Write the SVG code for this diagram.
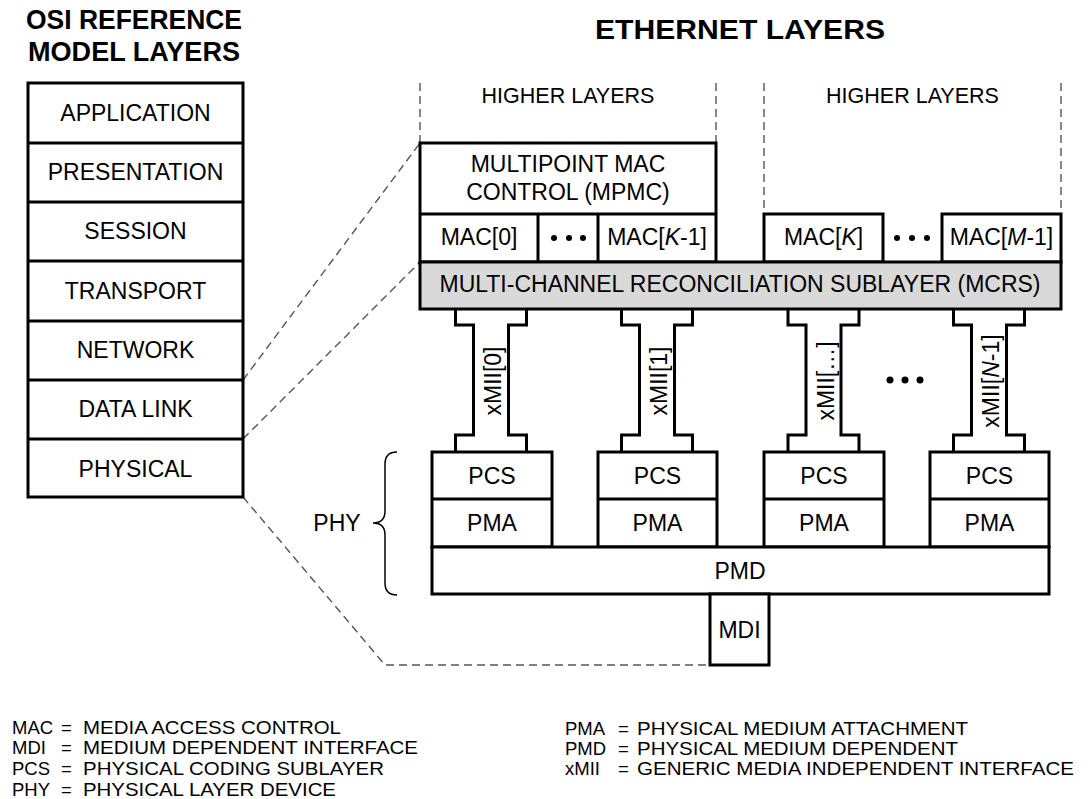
<svg xmlns="http://www.w3.org/2000/svg" width="1092" height="799" viewBox="0 0 1092 799">
<defs>
<style>
text{font-family:"Liberation Sans",Arial,sans-serif;fill:#000}
.t{font-size:23px;text-anchor:middle}
.hl{font-size:21.5px;text-anchor:middle}
.ttl{font-size:27px;font-weight:bold;text-anchor:middle}
.lg{font-size:18.5px}
.box{fill:#fff;stroke:#000;stroke-width:3}
.ln{fill:none;stroke:#000;stroke-width:3}
.gray{fill:#d9d9d9;stroke:#000;stroke-width:3}
.dash{fill:none;stroke:#555;stroke-width:1.4;stroke-dasharray:8 5}
.i{font-style:italic}
</style>
</defs>
<rect width="1092" height="799" fill="#fff"/>

<g id="titles">
<text class="ttl" x="134" y="29" textLength="216" lengthAdjust="spacingAndGlyphs">OSI REFERENCE</text>
<text class="ttl" x="134" y="61" textLength="212" lengthAdjust="spacingAndGlyphs">MODEL LAYERS</text>
<text class="ttl" x="740" y="39" font-size="28" textLength="290" lengthAdjust="spacingAndGlyphs">ETHERNET LAYERS</text>
</g>

<g id="connectors">
<path class="dash" d="M420,83 V143 M716,83 V143 M764,83 V214 M1061,83 V214"/>
<path class="dash" d="M243,380 L420,143 M243,439 L420,262 M243,497 L385,665 H710"/>
</g>

<g id="osi">
<rect class="box" x="28" y="83" width="215" height="414"/>
<path class="ln" d="M28,143 H243 M28,202 H243 M28,261 H243 M28,321 H243 M28,380 H243 M28,439 H243"/>
<text class="t" x="135.5" y="121">APPLICATION</text>
<text class="t" x="135.5" y="180">PRESENTATION</text>
<text class="t" x="135.5" y="239">SESSION</text>
<text class="t" x="135.5" y="299">TRANSPORT</text>
<text class="t" x="135.5" y="358">NETWORK</text>
<text class="t" x="135.5" y="417">DATA LINK</text>
<text class="t" x="135.5" y="477">PHYSICAL</text>
</g>

<g id="higher-layers">
<text class="hl" x="568" y="103">HIGHER LAYERS</text>
<text class="hl" x="912.5" y="103">HIGHER LAYERS</text>
</g>

<g id="mpmc">
<rect class="box" x="420" y="143" width="296" height="119"/>
<path class="ln" d="M420,214 H716 M538,214 V262 M598,214 V262"/>
<text class="t" x="568" y="172">MULTIPOINT MAC</text>
<text class="t" x="568" y="200">CONTROL (MPMC)</text>
<text class="t" x="479" y="245">MAC[0]</text>
<circle cx="554" cy="238" r="3"/><circle cx="569" cy="238" r="3"/><circle cx="583" cy="238" r="3"/>
<text class="t" x="657" y="245">MAC[<tspan class="i">K</tspan>-1]</text>
</g>

<g id="mac-k">
<rect class="box" x="764" y="214" width="119" height="48"/>
<text class="t" x="823.5" y="245">MAC[<tspan class="i">K</tspan>]</text>
</g>
<g id="mac-ellipsis">
<circle cx="897" cy="238" r="3"/><circle cx="912" cy="238" r="3"/><circle cx="927" cy="238" r="3"/>
</g>
<g id="mac-m">
<rect class="box" x="942" y="214" width="119" height="48"/>
<text class="t" x="1001.5" y="245">MAC[<tspan class="i">M</tspan>-1]</text>
</g>

<g id="mcrs">
<rect class="gray" x="420" y="262" width="641" height="47"/>
<text class="t" x="740" y="292">MULTI-CHANNEL RECONCILIATION SUBLAYER (MCRS)</text>
</g>

<g id="xmii">
<path class="ln" d="M455.5,309 V325 H473.5 V435 H455.5 V452 M526.5,309 V325 H508.5 V435 H526.5 V452"/>
<text class="t" font-size="22" transform="translate(501,381) rotate(-90)" x="0" y="0">xMII[0]</text>
<path class="ln" d="M621.5,309 V325 H639.5 V435 H621.5 V452 M692.5,309 V325 H674.5 V435 H692.5 V452"/>
<text class="t" font-size="22" transform="translate(667,381) rotate(-90)" x="0" y="0">xMII[1]</text>
<path class="ln" d="M788,309 V325 H806 V435 H788 V452 M859,309 V325 H841 V435 H859 V452"/>
<text class="t" font-size="22" transform="translate(833.5,381) rotate(-90)" x="0" y="0">xMII[…]</text>
<path class="ln" d="M953.5,309 V325 H971.5 V435 H953.5 V452 M1024.5,309 V325 H1006.5 V435 H1024.5 V452"/>
<text class="t" font-size="22" transform="translate(999,381) rotate(-90)" x="0" y="0">xMII[<tspan class="i">N</tspan>-1]</text>
<circle cx="890" cy="380" r="3.5"/><circle cx="905" cy="380" r="3.5"/><circle cx="920" cy="380" r="3.5"/>
</g>

<g id="phy0">
<rect class="box" x="432" y="452" width="120" height="95"/>
<path class="ln" d="M432,499 H552"/>
<text class="t" x="492" y="484">PCS</text>
<text class="t" x="492" y="531">PMA</text>
</g>
<g id="phy1">
<rect class="box" x="598" y="452" width="119" height="95"/>
<path class="ln" d="M598,499 H717"/>
<text class="t" x="657.5" y="484">PCS</text>
<text class="t" x="657.5" y="531">PMA</text>
</g>
<g id="phy2">
<rect class="box" x="764" y="452" width="120" height="95"/>
<path class="ln" d="M764,499 H884"/>
<text class="t" x="824" y="484">PCS</text>
<text class="t" x="824" y="531">PMA</text>
</g>
<g id="phy3">
<rect class="box" x="930" y="452" width="119" height="95"/>
<path class="ln" d="M930,499 H1049"/>
<text class="t" x="989.5" y="484">PCS</text>
<text class="t" x="989.5" y="531">PMA</text>
</g>

<g id="pmd">
<rect class="box" x="432" y="547" width="617" height="47"/>
<text class="t" x="740" y="579">PMD</text>
</g>
<g id="mdi">
<rect class="box" x="710" y="594" width="59" height="71"/>
<text class="t" x="739.5" y="638">MDI</text>
</g>

<g id="phy-brace">
<path d="M397,452 Q385,452 385,464 V511 Q385,523 373,523 Q385,523 385,535 V583 Q385,595 397,595" fill="none" stroke="#000" stroke-width="1.5"/>
<text class="t" x="337" y="531">PHY</text>
</g>

<g id="legend">
<text class="lg" y="734"><tspan x="12">MAC</tspan><tspan x="61">=</tspan><tspan x="83" textLength="258" lengthAdjust="spacingAndGlyphs">MEDIA ACCESS CONTROL</tspan></text>
<text class="lg" y="754"><tspan x="12">MDI</tspan><tspan x="61">=</tspan><tspan x="83" textLength="335" lengthAdjust="spacingAndGlyphs">MEDIUM DEPENDENT INTERFACE</tspan></text>
<text class="lg" y="775"><tspan x="12">PCS</tspan><tspan x="61">=</tspan><tspan x="83" textLength="301" lengthAdjust="spacingAndGlyphs">PHYSICAL CODING SUBLAYER</tspan></text>
<text class="lg" y="796"><tspan x="12">PHY</tspan><tspan x="61">=</tspan><tspan x="83" textLength="253" lengthAdjust="spacingAndGlyphs">PHYSICAL LAYER DEVICE</tspan></text>
<text class="lg" y="735"><tspan x="565">PMA</tspan><tspan x="618">=</tspan><tspan x="637" textLength="331" lengthAdjust="spacingAndGlyphs">PHYSICAL MEDIUM ATTACHMENT</tspan></text>
<text class="lg" y="755"><tspan x="565">PMD</tspan><tspan x="618">=</tspan><tspan x="637" textLength="321" lengthAdjust="spacingAndGlyphs">PHYSICAL MEDIUM DEPENDENT</tspan></text>
<text class="lg" y="775"><tspan x="565">xMII</tspan><tspan x="618">=</tspan><tspan x="637" textLength="437" lengthAdjust="spacingAndGlyphs">GENERIC MEDIA INDEPENDENT INTERFACE</tspan></text>
</g>
</svg>
